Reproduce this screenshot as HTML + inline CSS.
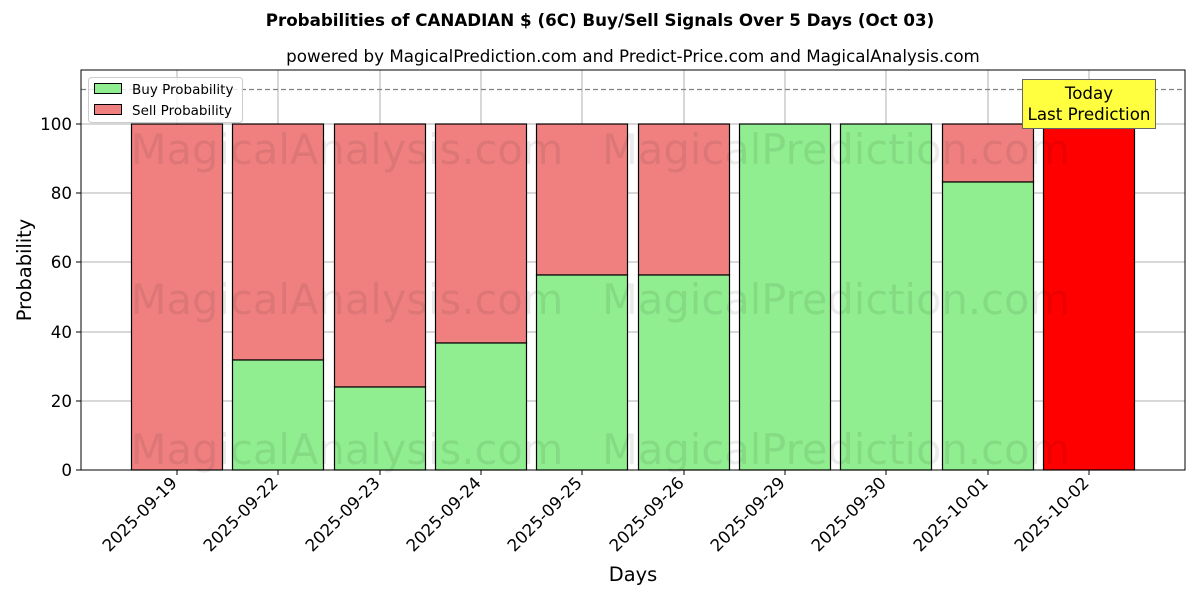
<!DOCTYPE html>
<html><head><meta charset="utf-8"><style>body{margin:0;background:#fff}svg{display:block}</style></head><body>
<svg width="1200" height="600" xmlns="http://www.w3.org/2000/svg" font-family="'DejaVu Sans','Liberation Sans',sans-serif">
<rect width="1200" height="600" fill="#fff"/>
<text x="600" y="26" text-anchor="middle" font-size="16.7" font-weight="bold">Probabilities of CANADIAN $ (6C) Buy/Sell Signals Over 5 Days (Oct 03)</text>
<text x="633" y="62" text-anchor="middle" font-size="16.7">powered by MagicalPrediction.com and Predict-Price.com and MagicalAnalysis.com</text>
<g stroke="#b0b0b0" stroke-width="1">
<line x1="81" x2="1185" y1="470" y2="470"/><line x1="81" x2="1185" y1="401" y2="401"/><line x1="81" x2="1185" y1="332" y2="332"/><line x1="81" x2="1185" y1="262" y2="262"/><line x1="81" x2="1185" y1="193" y2="193"/><line x1="81" x2="1185" y1="124" y2="124"/>
<line y1="70" y2="470" x1="177" x2="177"/><line y1="70" y2="470" x1="278" x2="278"/><line y1="70" y2="470" x1="380" x2="380"/><line y1="70" y2="470" x1="481" x2="481"/><line y1="70" y2="470" x1="582" x2="582"/><line y1="70" y2="470" x1="684" x2="684"/><line y1="70" y2="470" x1="785" x2="785"/><line y1="70" y2="470" x1="886" x2="886"/><line y1="70" y2="470" x1="988" x2="988"/><line y1="70" y2="470" x1="1089" x2="1089"/>
</g>
<g stroke="#000" stroke-width="1.2">
<rect x="131.5" y="124" width="91" height="346" fill="#f08080"/>
<rect x="232.5" y="124" width="91" height="236" fill="#f08080"/><rect x="232.5" y="360" width="91" height="110" fill="#90ee90"/>
<rect x="334.5" y="124" width="91" height="263" fill="#f08080"/><rect x="334.5" y="387" width="91" height="83" fill="#90ee90"/>
<rect x="435.5" y="124" width="91" height="219" fill="#f08080"/><rect x="435.5" y="343" width="91" height="127" fill="#90ee90"/>
<rect x="536.5" y="124" width="91" height="151" fill="#f08080"/><rect x="536.5" y="275" width="91" height="195" fill="#90ee90"/>
<rect x="638.5" y="124" width="91" height="151" fill="#f08080"/><rect x="638.5" y="275" width="91" height="195" fill="#90ee90"/>
<rect x="739.5" y="124" width="91" height="346" fill="#90ee90"/>
<rect x="840.5" y="124" width="91" height="346" fill="#90ee90"/>
<rect x="942.5" y="124" width="91" height="58" fill="#f08080"/><rect x="942.5" y="182" width="91" height="288" fill="#90ee90"/>
<rect x="1043.5" y="124" width="91" height="346" fill="#ff0000"/>
</g>
<g font-size="41.6" fill="#000" fill-opacity="0.08" text-anchor="middle">
<text x="347" y="164">MagicalAnalysis.com</text><text x="836" y="164">MagicalPrediction.com</text>
<text x="347" y="314">MagicalAnalysis.com</text><text x="836" y="314">MagicalPrediction.com</text>
<text x="347" y="464">MagicalAnalysis.com</text><text x="836" y="464">MagicalPrediction.com</text>
</g>
<line x1="81" x2="1185" y1="89.5" y2="89.5" stroke="#808080" stroke-width="1.2" stroke-dasharray="5,3"/>
<rect x="1022.5" y="79.5" width="133" height="49" fill="#ffff40" stroke="#666"/>
<text x="1089" y="99" text-anchor="middle" font-size="16.7">Today</text>
<text x="1089" y="120" text-anchor="middle" font-size="16.7">Last Prediction</text>
<rect x="81" y="70" width="1104" height="400" fill="none" stroke="#000" stroke-width="1"/>
<g stroke="#000"><line x1="76" x2="81" y1="470" y2="470"/><line x1="76" x2="81" y1="401" y2="401"/><line x1="76" x2="81" y1="332" y2="332"/><line x1="76" x2="81" y1="262" y2="262"/><line x1="76" x2="81" y1="193" y2="193"/><line x1="76" x2="81" y1="124" y2="124"/></g>
<g font-size="16.7" text-anchor="end"><text x="72" y="476">0</text><text x="72" y="407">20</text><text x="72" y="338">40</text><text x="72" y="268">60</text><text x="72" y="199">80</text><text x="72" y="130">100</text></g>
<text transform="translate(31,270) rotate(-90)" text-anchor="middle" font-size="19.4">Probability</text>
<text x="633" y="581" text-anchor="middle" font-size="19.4">Days</text>
<g font-size="16.7" text-anchor="end">
<text transform="translate(178,484) rotate(-45)">2025-09-19</text>
<text transform="translate(279,484) rotate(-45)">2025-09-22</text>
<text transform="translate(381,484) rotate(-45)">2025-09-23</text>
<text transform="translate(482,484) rotate(-45)">2025-09-24</text>
<text transform="translate(583,484) rotate(-45)">2025-09-25</text>
<text transform="translate(685,484) rotate(-45)">2025-09-26</text>
<text transform="translate(786,484) rotate(-45)">2025-09-29</text>
<text transform="translate(887,484) rotate(-45)">2025-09-30</text>
<text transform="translate(989,484) rotate(-45)">2025-10-01</text>
<text transform="translate(1090,484) rotate(-45)">2025-10-02</text>
</g>
<g stroke="#000"><line y1="470" y2="475" x1="177" x2="177"/><line y1="470" y2="475" x1="278" x2="278"/><line y1="470" y2="475" x1="380" x2="380"/><line y1="470" y2="475" x1="481" x2="481"/><line y1="470" y2="475" x1="582" x2="582"/><line y1="470" y2="475" x1="684" x2="684"/><line y1="470" y2="475" x1="785" x2="785"/><line y1="470" y2="475" x1="886" x2="886"/><line y1="470" y2="475" x1="988" x2="988"/><line y1="470" y2="475" x1="1089" x2="1089"/></g>
<rect x="88.5" y="77.5" width="154" height="45" rx="3" fill="#fff" fill-opacity="0.8" stroke="#ccc"/>
<rect x="94.5" y="83.5" width="27" height="10" fill="#90ee90" stroke="#000"/>
<rect x="94.5" y="104.5" width="27" height="10" fill="#f08080" stroke="#000"/>
<text x="132" y="94" font-size="13.5">Buy Probability</text>
<text x="132" y="115" font-size="13.5">Sell Probability</text>
</svg>
</body></html>
